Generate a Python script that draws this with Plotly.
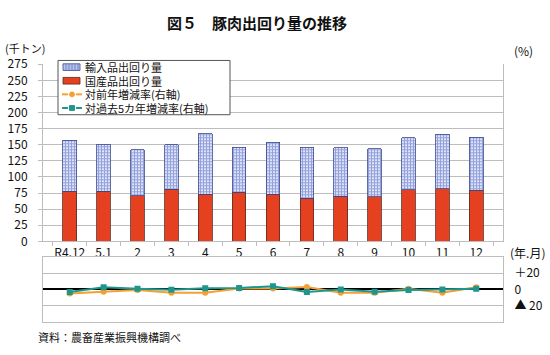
import plotly.graph_objects as go

W, H = 550, 355

categories = ["R4.12", "5.1", "2", "3", "4", "5", "6", "7", "8", "9", "10", "11", "12"]
domestic = [77.5, 77.5, 71, 81, 73.5, 76, 73.5, 67, 70, 69, 80, 82, 79.5]
imported = [79.5, 73.5, 71, 69, 94, 70, 80.5, 79.5, 75.5, 75, 81, 84, 82]
yoy_change = [-5, -2.7, -0.8, -3.9, -3.9, 1.2, 1.2, 3.1, -3.9, -3.9, 0.8, -3.9, 2.7]
five_year_change = [-3, 2.7, 0.8, -0.4, 1.5, 1.9, 3.9, -3.1, 0, -2.7, -0.8, 0, 0.8]

top_ticks = list(range(0, 276, 25))
low_tickvals = [-40, -20, 0, 20, 40]
low_ticktext = ["", "▲ 20", "0", "＋20", ""]

FONT = "Noto Sans CJK JP"
GRID = "#bdbdbd"
RED = "#e5401f"
ORANGE = "#f5a033"
TEAL = "#1e968e"


def px(x):
    return x / W


def py(y):
    return (H - y) / H


fig = go.Figure()
fig.add_trace(go.Bar(x=categories, y=domestic, name="国産品出回り量",
                     marker=dict(color=RED, line=dict(color="#5a2a20", width=0.8)),
                     xaxis="x", yaxis="y", showlegend=False))
fig.add_trace(go.Bar(x=categories, y=imported, name="輸入品出回り量",
                     marker=dict(color="#dfe5f8", line=dict(color="#3a4a90", width=0.8),
                                 pattern=dict(shape="+", fgcolor="#4a5dbf", bgcolor="#dfe5f8",
                                              size=3, solidity=0.6)),
                     xaxis="x", yaxis="y", showlegend=False))
fig.add_trace(go.Scatter(x=categories, y=yoy_change, mode="lines+markers",
                         line=dict(color=ORANGE, width=2),
                         marker=dict(symbol="circle", size=6, color=ORANGE),
                         xaxis="x2", yaxis="y2", showlegend=False))
fig.add_trace(go.Scatter(x=categories, y=five_year_change, mode="lines+markers",
                         line=dict(color=TEAL, width=2),
                         marker=dict(symbol="square", size=6, color=TEAL),
                         xaxis="x2", yaxis="y2", showlegend=False))

xdom = [px(43), px(503)]

shapes = []
annotations = []

# legend box
shapes.append(dict(type="rect", xref="paper", yref="paper",
                   x0=px(58), x1=px(230), y0=py(110), y1=py(53),
                   line=dict(color="#555555", width=1), fillcolor="white", layer="above"))
rows = [60, 74.3, 88.6, 102.9]
labels = ["輸入品出回り量", "国産品出回り量", "対前年増減率(右軸)", "対過去5カ年増減率(右軸)"]
# swatch 1: blue checkered
shapes.append(dict(type="rect", xref="paper", yref="paper",
                   x0=px(63), x1=px(80), y0=py(rows[0] + 3.5), y1=py(rows[0] - 3.5),
                   line=dict(color="#3a4a90", width=0.8), fillcolor="#b7c2ea", layer="above"))
for xx in [66, 69, 72, 75, 78]:
    shapes.append(dict(type="line", xref="paper", yref="paper",
                       x0=px(xx), x1=px(xx), y0=py(rows[0] + 3.5), y1=py(rows[0] - 3.5),
                       line=dict(color="#4a5dbf", width=0.6), layer="above"))
# swatch 2: red
shapes.append(dict(type="rect", xref="paper", yref="paper",
                   x0=px(63), x1=px(80), y0=py(rows[1] + 3.5), y1=py(rows[1] - 3.5),
                   line=dict(color="#5a2a20", width=0.8), fillcolor=RED, layer="above"))
# swatch 3/4: lines with markers
for r, col, sym in [(rows[2], ORANGE, "circle"), (rows[3], TEAL, "rect")]:
    shapes.append(dict(type="line", xref="paper", yref="paper",
                       x0=px(62), x1=px(68), y0=py(r), y1=py(r),
                       line=dict(color=col, width=2), layer="above"))
    shapes.append(dict(type="line", xref="paper", yref="paper",
                       x0=px(76), x1=px(82), y0=py(r), y1=py(r),
                       line=dict(color=col, width=2), layer="above"))
    shapes.append(dict(type=sym, xref="paper", yref="paper",
                       x0=px(69.5), x1=px(74.5), y0=py(r + 2.5), y1=py(r - 2.5),
                       line=dict(color=col, width=1), fillcolor=col, layer="above"))
for r, t in zip(rows, labels):
    annotations.append(dict(text=t, xref="paper", yref="paper", x=px(83), y=py(r),
                            xanchor="left", yanchor="middle", showarrow=False,
                            font=dict(size=11, color="#111111", family=FONT)))

annotations += [
    dict(text="<b>図５　豚肉出回り量の推移</b>", xref="paper", yref="paper", x=px(257), y=py(13),
         xanchor="center", yanchor="middle", showarrow=False,
         font=dict(size=15, color="#111111", family=FONT)),
    dict(text="(千トン)", xref="paper", yref="paper", x=px(3), y=py(40),
         xanchor="left", yanchor="middle", showarrow=False,
         font=dict(size=11, color="#111111", family=FONT)),
    dict(text="(%)", xref="paper", yref="paper", x=px(512), y=py(43),
         xanchor="left", yanchor="middle", showarrow=False,
         font=dict(size=12, color="#111111", family=FONT)),
    dict(text="(年.月)", xref="paper", yref="paper", x=px(508), y=py(255),
         xanchor="left", yanchor="middle", showarrow=False,
         font=dict(size=12, color="#111111", family=FONT)),
    dict(text="資料：農畜産業振興機構調べ", xref="paper", yref="paper", x=px(36), y=py(343),
         xanchor="left", yanchor="middle", showarrow=False,
         font=dict(size=11, color="#111111", family=FONT)),
]

fig.update_layout(
    width=W, height=H,
    margin=dict(l=0, r=0, t=0, b=0),
    paper_bgcolor="white", plot_bgcolor="white",
    barmode="stack", bargap=0.6,
    font=dict(family=FONT, size=12, color="#111111"),
    showlegend=False,
    xaxis=dict(domain=xdom, type="category", anchor="y", tickangle=0,
               showline=True, linecolor=GRID, linewidth=1,
               ticks="outside", tickson="boundaries", ticklen=4, tickcolor=GRID,
               showgrid=False, tickfont=dict(size=12, family=FONT)),
    yaxis=dict(domain=[py(243), py(57)], range=[0, 275], anchor="x",
               tickvals=top_ticks, showgrid=True, gridcolor=GRID, gridwidth=1,
               showline=True, linecolor=GRID, mirror=True,
               ticks="outside", ticklen=4, tickcolor=GRID, ticklabelstandoff=8,
               tickfont=dict(size=12, family=FONT), zeroline=False),
    xaxis2=dict(domain=xdom, type="category", anchor="y2", matches="x",
                showticklabels=False, showline=True, linecolor=GRID, mirror=True,
                ticks="", showgrid=False),
    yaxis2=dict(domain=[py(328), py(259)], range=[-40, 40], anchor="x2", side="right",
                tickvals=low_tickvals, ticktext=low_ticktext,
                showgrid=True, gridcolor=GRID, showline=True, linecolor=GRID, mirror=True,
                ticks="", zeroline=True, zerolinecolor="#000000", zerolinewidth=2,
                ticklabelstandoff=8,
                tickfont=dict(size=12, family=FONT)),
    shapes=shapes,
    annotations=annotations,
)

fig.write_html("out.html", config={"displayModeBar": False},
               post_script="document.body.style.margin='0';")
